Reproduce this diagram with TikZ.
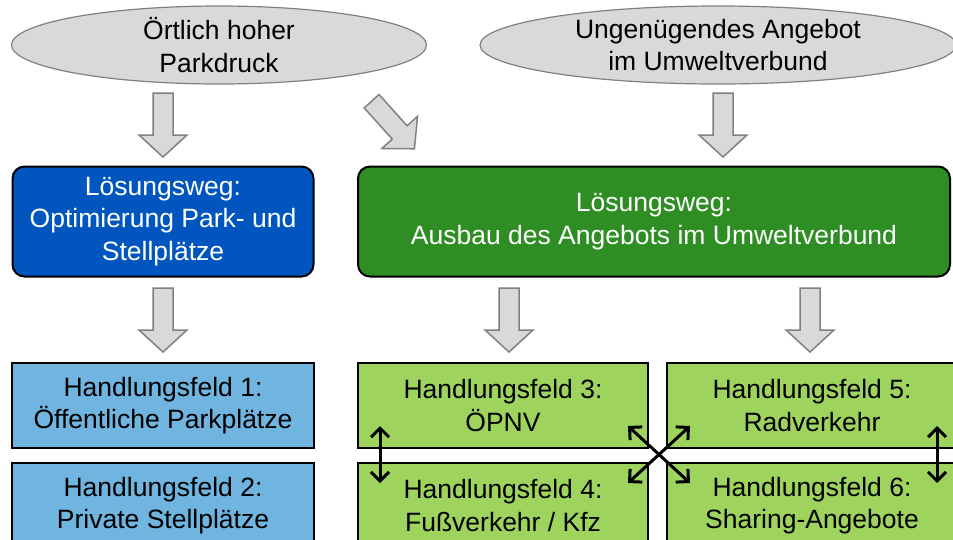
\documentclass[tikz,border=0pt]{standalone}
\usepackage{fontspec}
\setmainfont{Liberation Sans}
\usepackage{xcolor}
\usetikzlibrary{shapes,arrows.meta,positioning}

\definecolor{causegray}{RGB}{217,217,217}
\definecolor{arrowgray}{RGB}{128,128,128}
\definecolor{pathblue}{RGB}{0,86,190}
\definecolor{pathgreen}{RGB}{46,142,36}
\definecolor{fieldblue}{RGB}{112,180,224}
\definecolor{fieldgreen}{RGB}{158,212,94}

\tikzset{
    blockarrow/.pic={
        \draw[draw=arrowgray, line width=1.5pt, fill=causegray, line join=miter]
            (-32,-10) -- (10,-10) -- (10,-24) -- (32,0) -- (10,24) -- (10,10) -- (-32,10) -- cycle;
    }
}

\begin{document}
\begin{tikzpicture}[x=1pt, y=-1pt,
    font=\fontsize{26.5}{32.5}\selectfont,
    cause/.style={ellipse, draw=arrowgray, line width=1.2pt, fill=causegray, align=center, inner sep=0pt},
    path/.style={rectangle, rounded corners=12pt, draw=black, line width=2pt, text=white, align=center, minimum height=110pt},
    field/.style={rectangle, draw=black, line width=2pt, align=center, minimum height=85pt},
    link/.style={{Straight Barb[length=9pt,width=18pt]}-{Straight Barb[length=9pt,width=18pt]}, line width=3pt}
]
\useasboundingbox (0,0) rectangle (953,539);

% causes
\node[cause, minimum width=415pt, minimum height=78pt] (parkdruck) at (219,45) {Örtlich hoher\\Parkdruck};
\node[cause, minimum width=476pt, minimum height=78pt] (angebot) at (718,45) {Ungenügendes Angebot\\im Umweltverbund};

% solution paths
\node[path, fill=pathblue, minimum width=301pt] (weg1) at (163,221.5) {Lösungsweg:\\Optimierung Park- und\\Stellplätze};
\node[path, fill=pathgreen, minimum width=592pt] (weg2) at (654,221.5) {Lösungsweg:\\Ausbau des Angebots im Umweltverbund};

% fields of action
\node[field, fill=fieldblue, minimum width=302pt] (hf1) at (163,405.5) {Handlungsfeld 1:\\Öffentliche Parkplätze};
\node[field, fill=fieldblue, minimum width=302pt] (hf2) at (163,505.5) {Handlungsfeld 2:\\Private Stellplätze};
\node[field, fill=fieldgreen, minimum width=290pt] (hf3) at (503,405.5) {Handlungsfeld 3:\\ÖPNV};
\node[field, fill=fieldgreen, minimum width=290pt] (hf4) at (503,505.5) {Handlungsfeld 4:\\Fußverkehr / Kfz};
\node[field, fill=fieldgreen, minimum width=290pt] (hf5) at (812,405.5) {Handlungsfeld 5:\\Radverkehr};
\node[field, fill=fieldgreen, minimum width=290pt] (hf6) at (812,505.5) {Handlungsfeld 6:\\Sharing-Angebote};

% block arrows
\pic[rotate=-90] (pfeil1) at (163,125) {blockarrow};
\pic[rotate=-48] (pfeil2) at (393,125) {blockarrow};
\pic[rotate=-90] (pfeil3) at (723,125) {blockarrow};
\pic[rotate=-90] (pfeil4) at (163,320) {blockarrow};
\pic[rotate=-90] (pfeil5) at (509,320) {blockarrow};
\pic[rotate=-90] (pfeil6) at (810,320) {blockarrow};

% links between fields
\coordinate (x34) at (380,426);
\coordinate (x43) at (380,483);
\coordinate (x56) at (937,426);
\coordinate (x65) at (937,483);
\coordinate (x35) at (628,426);
\coordinate (x46) at (690,483);
\coordinate (x53) at (690,426);
\coordinate (x64) at (628,483);
\draw[link] (x34) -- (x43);
\draw[link] (x56) -- (x65);
\draw[link] (x35) -- (x46);
\draw[link] (x53) -- (x64);
\end{tikzpicture}
\end{document}
